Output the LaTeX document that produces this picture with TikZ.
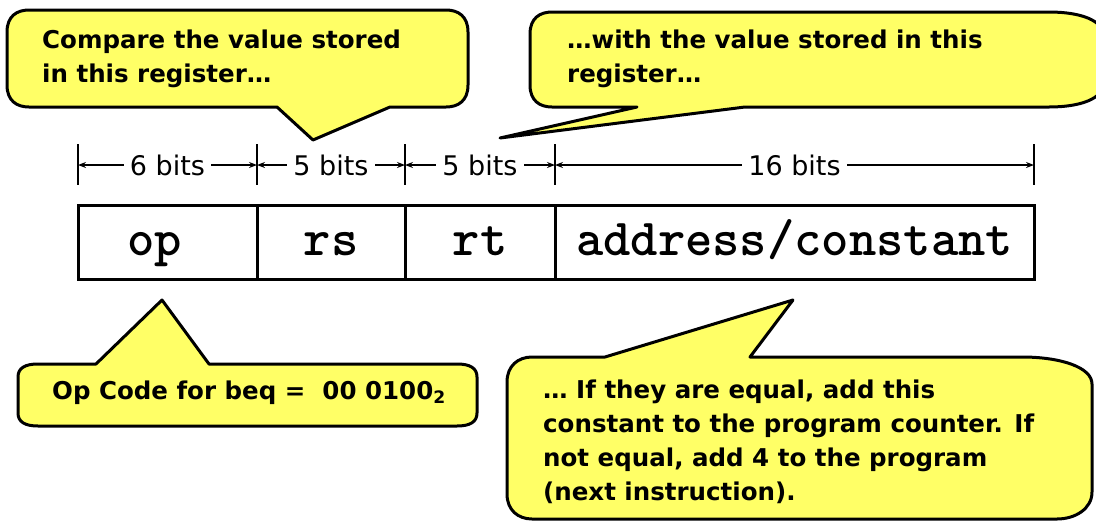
\documentclass[tikz,border=0pt]{standalone}
\usepackage{fontspec}
\setmainfont{DejaVu Sans}
\usetikzlibrary{arrows.meta}
\definecolor{bubblefill}{RGB}{255,255,102}
\tikzset{
  bubble/.style={fill=bubblefill, draw=black, line width=3pt, line join=round},
  btext/.style={anchor=north west, align=left, inner sep=0pt,
    font=\fontsize{24.5}{34}\selectfont\bfseries},
  field/.style={draw=black, line width=3pt, minimum height=74pt, inner sep=0pt,
    text height=30pt, text depth=4pt,
    font=\fontsize{52}{52}\selectfont\ttfamily\bfseries},
  dimline/.style={line width=1.5pt, {Stealth[length=8pt,width=6pt]}-{Stealth[length=8pt,width=6pt]}},
  dimlabel/.style={fill=white, inner xsep=6pt, inner ysep=1pt,
    font=\fontsize{27}{27}\selectfont},
  tickmark/.style={line width=2.5pt},
}
\begin{document}
\begin{tikzpicture}[x=1pt,y=-1pt]
\clip (0,0) rectangle (1096,523);
\fill[white] (0,0) rectangle (1096,523);

% bubble 1 (top left)
\draw[bubble] (29,10) -- (446,10) .. controls (458,10) and (468,16) .. (468,32)
  -- (468,85) .. controls (468,101) and (458,107) .. (446,107)
  -- (390,107) -- (313,140) -- (277,107)
  -- (29,107) .. controls (17,107) and (7,101) .. (7,85)
  -- (7,32) .. controls (7,16) and (17,10) .. (29,10) -- cycle;
\node[btext] (c1) at (42,24.2) {\strut Compare the value stored\\in this register…};

% bubble 2 (top right)
\draw[bubble] (552,12) -- (1049,12) .. controls (1080,12) and (1104,20) .. (1104,37)
  -- (1104,82) .. controls (1104,99) and (1080,107) .. (1049,107)
  -- (745,107) -- (500,138) -- (637,107)
  -- (552,107) .. controls (540,107) and (530,101) .. (530,85)
  -- (530,34) .. controls (530,18) and (540,12) .. (552,12) -- cycle;
\node[btext] (c2) at (567,24.2) {\strut …with the value stored in this\\register…};

% dimension line
\coordinate (d0) at (78,165);
\coordinate (d1) at (257,165);
\coordinate (d2) at (405,165);
\coordinate (d3) at (555,165);
\coordinate (d4) at (1034,165);
\foreach \p in {d0,d1,d2,d3,d4}
  \draw[tickmark] (\p) ++(0,-21) -- ++(0,41);
\draw[dimline] (d0) -- node[dimlabel] (l0) {6 bits} (d1);
\draw[dimline] (d1) -- node[dimlabel] (l1) {5 bits} (d2);
\draw[dimline] (d2) -- node[dimlabel] (l2) {5 bits} (d3);
\draw[dimline] (d3) -- node[dimlabel] (l3) {16 bits} (d4);

% instruction fields
\node[field, minimum width=179pt] (op) at (167.5,242) {op\hspace*{26pt}};
\node[field, minimum width=148pt] (rs) at (331,242) {rs};
\node[field, minimum width=150pt] (rt) at (480,242) {rt};
\node[field, minimum width=479pt] (ad) at (794.5,242) {address/constant};

% bubble 3 (op code)
\draw[bubble] (38,364) -- (96,364) -- (162,300) -- (209,364)
  -- (457,364) .. controls (470,364) and (477,368) .. (477,377)
  -- (477,413) .. controls (477,422) and (470,426) .. (457,426)
  -- (38,426) .. controls (25,426) and (18,422) .. (18,413)
  -- (18,377) .. controls (18,368) and (25,364) .. (38,364) -- cycle;
\node[anchor=base west, inner sep=0pt, font=\fontsize{24.5}{34}\selectfont\bfseries]
  (c3) at (52,399) {Op Code for beq =\ \ 00 0100\textsubscript{2}};

% bubble 4 (bottom right)
\draw[bubble] (532,357) -- (605,357) -- (793,300) -- (750,357)
  -- (1022,357) .. controls (1060,357) and (1092,367) .. (1092,384)
  -- (1092,492) .. controls (1092,509) and (1075,519) .. (1057,519)
  -- (532,519) .. controls (518,519) and (507,510) .. (507,494)
  -- (507,382) .. controls (507,366) and (518,357) .. (532,357) -- cycle;
\node[btext] (c4) at (543,374.2) {\strut … If they are equal, add this\\constant to the program counter. If\\not equal, add 4 to the program\\(next instruction).};
\end{tikzpicture}
\end{document}
